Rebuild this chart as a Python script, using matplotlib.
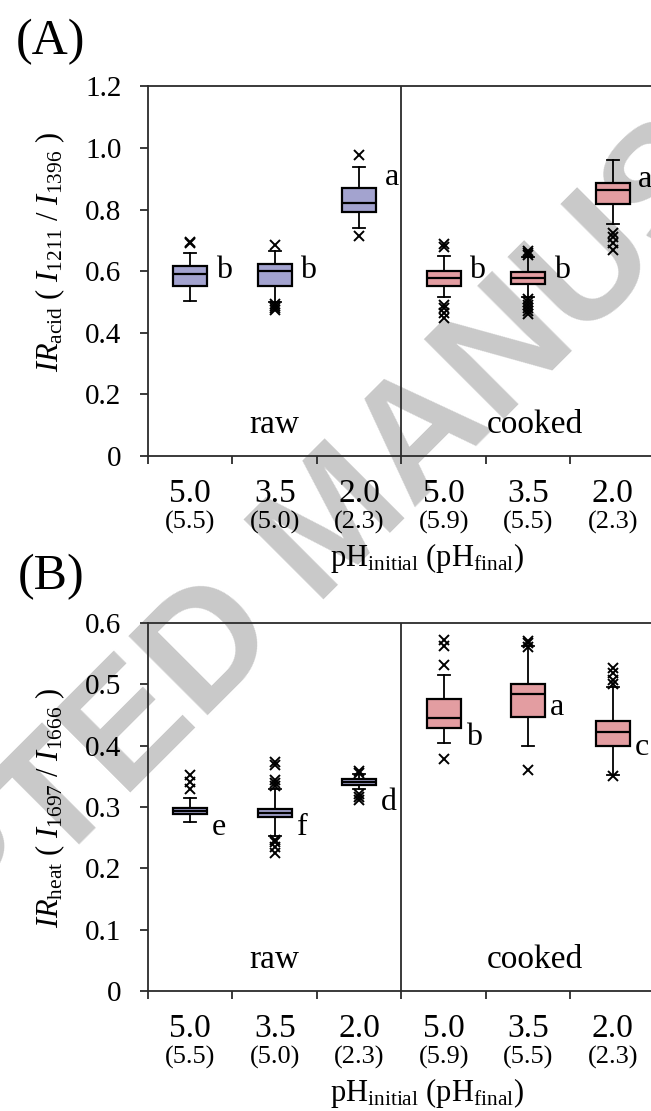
import matplotlib
matplotlib.use("Agg")
import matplotlib.pyplot as plt

#%% --- Fonts ---
plt.rcParams['font.family'] = ['Liberation Serif', 'DejaVu Serif']
plt.rcParams['mathtext.fontset'] = 'custom'
plt.rcParams['mathtext.rm'] = 'Liberation Serif'
plt.rcParams['mathtext.it'] = 'Liberation Serif:italic'
plt.rcParams['mathtext.bf'] = 'Liberation Serif:bold'

#%% --- Data ---
groups = ['raw', 'cooked']
ph_initial = ['5.0', '3.5', '2.0', '5.0', '3.5', '2.0']
ph_final = ['(5.5)', '(5.0)', '(2.3)', '(5.9)', '(5.5)', '(2.3)']

# (A) IR acid
acid_med = [0.591, 0.602, 0.820, 0.577, 0.577, 0.864]
acid_q1 = [0.552, 0.552, 0.793, 0.552, 0.558, 0.818]
acid_q3 = [0.617, 0.623, 0.869, 0.602, 0.596, 0.887]
acid_lo = [0.504, 0.500, 0.741, 0.515, 0.515, 0.752]
acid_hi = [0.658, 0.667, 0.937, 0.649, 0.647, 0.961]
acid_fliers = [[0.695, 0.690],
               [0.685, 0.495, 0.487, 0.480, 0.473],
               [0.977, 0.714],
               [0.688, 0.680, 0.490, 0.480, 0.463, 0.447],
               [0.665, 0.658, 0.652, 0.510, 0.500, 0.490, 0.480, 0.470, 0.460],
               [0.723, 0.710, 0.693, 0.669]]
acid_letters = ['b', 'b', 'a', 'b', 'b', 'a']
acid_letter_y = [0.577, 0.577, 0.880, 0.577, 0.577, 0.874]

# (B) IR heat
heat_med = [0.294, 0.290, 0.341, 0.445, 0.485, 0.422]
heat_q1 = [0.289, 0.283, 0.336, 0.428, 0.447, 0.400]
heat_q3 = [0.299, 0.296, 0.345, 0.476, 0.500, 0.441]
heat_lo = [0.276, 0.252, 0.330, 0.404, 0.400, 0.352]
heat_hi = [0.314, 0.330, 0.353, 0.515, 0.563, 0.496]
heat_fliers = [[0.352, 0.340, 0.330],
               [0.374, 0.368, 0.344, 0.339, 0.334, 0.247, 0.243, 0.235, 0.225],
               [0.359, 0.355, 0.322, 0.317, 0.311],
               [0.573, 0.562, 0.532, 0.379],
               [0.571, 0.567, 0.561, 0.360],
               [0.526, 0.518, 0.507, 0.500, 0.351]]
heat_letters = ['e', 'f', 'd', 'b', 'a', 'c']
heat_letter_y = [0.254, 0.254, 0.295, 0.401, 0.450, 0.385]

#%% --- Style ---
raw_color = '#a3a3cf'
cooked_color = '#e39da1'
line_color = '#2b2b2b'
positions = [1, 2, 3, 4, 5, 6]


def draw_panel(ax, med, q1, q3, lo, hi, fliers, letters, letter_y, letter_dx,
               ylim, yticks, ylabels, group_y):
    stats = []
    for i in range(6):
        stats.append(dict(med=med[i], q1=q1[i], q3=q3[i], whislo=lo[i],
                          whishi=hi[i], fliers=fliers[i]))
    bp = ax.bxp(stats, positions=positions, widths=0.4, patch_artist=True,
                capwidths=0.14,
                boxprops=dict(linewidth=1.6, edgecolor='black'),
                medianprops=dict(color='black', linewidth=1.6),
                whiskerprops=dict(color='black', linewidth=1.3),
                capprops=dict(color='black', linewidth=1.3),
                flierprops=dict(marker='x', markersize=6.5, markeredgewidth=1.4,
                                markeredgecolor='black'))
    for i, box in enumerate(bp['boxes']):
        box.set_facecolor(raw_color if i < 3 else cooked_color)

    # significance letters
    for i in range(6):
        ax.text(positions[i] + letter_dx, letter_y[i], letters[i],
                fontsize=23, ha='left', va='baseline')

    # raw / cooked divider
    ax.axvline(3.5, color=line_color, linewidth=1.3, zorder=1)
    ax.text(2.0, group_y, groups[0], fontsize=24, ha='center', va='baseline')
    ax.text(5.08, group_y, groups[1], fontsize=24, ha='center', va='baseline')

    ax.set_xlim(0.5, 6.5)
    ax.set_ylim(*ylim)
    ax.set_yticks(yticks)
    ax.set_yticklabels(ylabels, fontsize=21)
    ax.set_xticks([0.5, 1.5, 2.5, 3.5, 4.5, 5.5, 6.5])
    ax.set_xticklabels([])
    ax.tick_params(axis='both', direction='out', length=6, width=1.3,
                   color=line_color, pad=13)
    for s in ax.spines.values():
        s.set_color(line_color)
        s.set_linewidth(1.3)
    ax.set_facecolor('none')

    # two-line category labels under the axis
    for i in range(6):
        ax.annotate(ph_initial[i], xy=(positions[i], 0),
                    xycoords=('data', 'axes fraction'),
                    xytext=(0, -33), textcoords='offset points',
                    ha='center', va='baseline', fontsize=24)
        ax.annotate(ph_final[i], xy=(positions[i], 0),
                    xycoords=('data', 'axes fraction'),
                    xytext=(0, -52), textcoords='offset points',
                    ha='center', va='baseline', fontsize=19)


#%% --- Figure ---
fig = plt.figure(figsize=(6.51, 11.11), dpi=100)

# watermark behind everything
fig.text(338 / 651, 1 - 525 / 1111, 'ACCEPTED MANUSCRIPT', rotation=45,
         rotation_mode='anchor', ha='center', va='center',
         fontsize=118, fontweight='bold', family='Liberation Sans',
         color='#c9c9c9', zorder=-5)

ax_a = fig.add_axes([148 / 651, 1 - 456 / 1111, 507 / 651, 369.6 / 1111])
ax_b = fig.add_axes([148 / 651, 1 - 991 / 1111, 507 / 651, 368 / 1111])

draw_panel(ax_a, acid_med, acid_q1, acid_q3, acid_lo, acid_hi, acid_fliers,
           acid_letters, acid_letter_y, 0.30,
           (0, 1.2), [0, 0.2, 0.4, 0.6, 0.8, 1.0, 1.2],
           ['0', '0.2', '0.4', '0.6', '0.8', '1.0', '1.2'], 0.0757)
draw_panel(ax_b, heat_med, heat_q1, heat_q3, heat_lo, heat_hi, heat_fliers,
           heat_letters, heat_letter_y, 0.26,
           (0, 0.6), [0, 0.1, 0.2, 0.3, 0.4, 0.5, 0.6],
           ['0', '0.1', '0.2', '0.3', '0.4', '0.5', '0.6'], 0.037)

# y labels
fig.text(50 / 651, 1 - 252 / 1111,
         r'$IR_{\mathrm{acid}}$ ( $I_{1211}$ / $I_{1396}$ )',
         rotation=90, ha='center', va='center', fontsize=22)
fig.text(50 / 651, 1 - 808 / 1111,
         r'$IR_{\mathrm{heat}}$ ( $I_{1697}$ / $I_{1666}$ )',
         rotation=90, ha='center', va='center', fontsize=22)

# x labels
fig.text(427 / 651, 1 - 566 / 1111,
         r'pH$_{\mathrm{initial}}$ (pH$_{\mathrm{final}}$)',
         ha='center', va='baseline', fontsize=22)
fig.text(427 / 651, 1 - 1101 / 1111,
         r'pH$_{\mathrm{initial}}$ (pH$_{\mathrm{final}}$)',
         ha='center', va='baseline', fontsize=22)

# panel tags
fig.text(51 / 651, 1 - 42 / 1111, '(A)', ha='center', va='center', fontsize=36)
fig.text(51 / 651, 1 - 577 / 1111, '(B)', ha='center', va='center', fontsize=36)

plt.savefig('out.png', dpi=100)
